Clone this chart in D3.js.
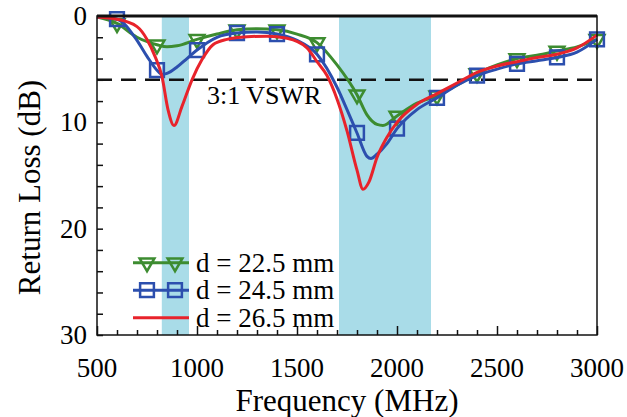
<!DOCTYPE html>
<html>
<head>
  <meta charset="UTF-8">
  <script src="https://d3js.org/d3.v7.min.js"></script>
</head>
<body style="margin:0">
  <script>
    // curve samples (MHz, dB)
    const freqGreen = [500, 600, 700, 800, 850, 900, 1000, 1100, 1200, 1300, 1400, 1500, 1600, 1700, 1800, 1850, 1900, 1930, 2000, 2100, 2200, 2300, 2400, 2500, 2600, 2700, 2800, 2900, 3000];
    const lossGreen = [0.1, 0.7, 2.0, 2.7, 2.9, 2.8, 2.2, 1.7, 1.3, 1.2, 1.3, 1.7, 2.5, 4.6, 7.4, 9.3, 10.2, 10.3, 9.4, 8.2, 7.5, 6.5, 5.4, 4.6, 4.0, 3.7, 3.3, 2.9, 2.2];

    const freqBlue = [500, 600, 700, 750, 800, 825, 850, 900, 950, 1000, 1100, 1200, 1300, 1400, 1500, 1600, 1700, 1750, 1800, 1850, 1870, 1900, 1950, 2000, 2100, 2200, 2300, 2400, 2500, 2600, 2700, 2800, 2900, 3000];
    const lossBlue = [0.1, 0.3, 2.3, 3.8, 5.1, 5.5, 5.4, 4.8, 4.0, 3.2, 2.0, 1.6, 1.5, 1.7, 2.3, 3.6, 6.7, 8.8, 11.0, 13.2, 13.4, 13.0, 12.0, 10.6, 8.8, 7.7, 6.5, 5.6, 5.0, 4.5, 4.2, 3.9, 3.4, 2.2];

    const freqRed = [500, 600, 700, 750, 790, 825, 855, 885, 925, 975, 1025, 1080, 1150, 1250, 1350, 1450, 1550, 1600, 1650, 1700, 1750, 1800, 1830, 1860, 1900, 1950, 2000, 2100, 2200, 2300, 2400, 2500, 2600, 2700, 2800, 2900, 3000];
    const lossRed = [0.1, 0.3, 1.0, 2.2, 3.8, 5.7, 8.8, 10.3, 8.5, 6.0, 4.1, 2.7, 2.2, 1.95, 1.9, 2.1, 3.0, 4.3, 5.6, 7.8, 10.8, 14.5, 16.3, 15.6, 13.3, 11.4, 10.0, 8.3, 7.3, 6.3, 5.3, 4.7, 4.3, 3.9, 3.6, 3.0, 1.8];

    const markerFreqs = [600, 800, 1000, 1200, 1400, 1600, 1800, 2000, 2200, 2400, 2600, 2800, 3000];
    const bands = [[824, 960], [1710, 2170]];
    const vswrLevel = 6;
    const xTicks = [500, 1000, 1500, 2000, 2500, 3000];
    const yTicks = [0, 10, 20, 30];
    const legendLabels = ["d = 22.5 mm", "d = 24.5 mm", "d = 26.5 mm"];

    const W = 627, H = 417;
    const m = { left: 97, top: 16, right: 30, bottom: 82 };
    const iw = W - m.left - m.right, ih = H - m.top - m.bottom;
    const serif = "'Liberation Serif'";

    const svg = d3.select("body").append("svg").attr("width", W).attr("height", H)
      .style("font-family", serif);
    const g = svg.append("g").attr("transform", `translate(${m.left},${m.top})`);

    const x = d3.scaleLinear().domain([500, 3000]).range([0, iw]);
    const y = d3.scaleLinear().domain([0, 30]).range([0, ih]);

    // shaded bands
    g.selectAll(".band").data(bands).enter().append("rect")
      .attr("x", d => x(d[0])).attr("width", d => x(d[1]) - x(d[0]))
      .attr("y", 0).attr("height", ih)
      .attr("fill", "#a9dce8");

    // ticks (inward)
    const xAxis = d3.axisBottom(x).tickValues(d3.range(500, 3001, 100))
      .tickSize(-5).tickFormat("");
    g.append("g").attr("transform", `translate(0,${ih})`).call(xAxis)
      .call(s => s.select(".domain").remove())
      .call(s => s.selectAll(".tick line").attr("stroke", "#111").attr("stroke-width", 1.5)
        .attr("y2", d => d % 500 === 0 ? -9 : -5));
    const yAxis = d3.axisLeft(y).tickValues(d3.range(0, 31, 2))
      .tickSize(-6).tickFormat("");
    g.append("g").call(yAxis)
      .call(s => s.select(".domain").remove())
      .call(s => s.selectAll(".tick line").attr("stroke", "#111").attr("stroke-width", 1.5));

    // tick labels
    g.selectAll(".xl").data(xTicks).enter().append("text")
      .attr("x", d => x(d)).attr("y", ih + 42)
      .attr("text-anchor", "middle").style("font-family", serif).attr("font-size", 27).text(d => d);
    g.selectAll(".yl").data(yTicks).enter().append("text")
      .attr("x", -10).attr("y", d => y(d) + 9)
      .attr("text-anchor", "end").style("font-family", serif).attr("font-size", 27).text(d => d);

    // 3:1 VSWR line
    g.append("line").attr("x1", 0).attr("x2", iw)
      .attr("y1", y(vswrLevel)).attr("y2", y(vswrLevel))
      .attr("stroke", "#111").attr("stroke-width", 2.5).attr("stroke-dasharray", "15,9");
    g.append("text").attr("x", x(1050)).attr("y", y(vswrLevel) + 24)
      .style("font-family", serif).attr("font-size", 26).text("3:1 VSWR");

    const line = d3.line().x(d => x(d[0])).y(d => y(d[1])).curve(d3.curveMonotoneX);
    const series = [
      { f: freqGreen, v: lossGreen, color: "#3d8c30", marker: "tri" },
      { f: freqBlue, v: lossBlue, color: "#2c4fae", marker: "sq" },
      { f: freqRed, v: lossRed, color: "#e8232b", marker: null }
    ];

    const triSym = d3.symbol().type(d3.symbolTriangle).size(95);
    const sqSym = d3.symbol().type(d3.symbolSquare).size(190);

    function drawMarker(sel, kind, color) {
      if (kind === "tri") {
        sel.append("path").attr("d", triSym())
          .attr("transform", "rotate(180)")
          .attr("fill", "none").attr("stroke", color).attr("stroke-width", 2.5);
      } else if (kind === "sq") {
        sel.append("path").attr("d", sqSym())
          .attr("fill", "none").attr("stroke", color).attr("stroke-width", 2.5);
      }
    }

    series.forEach(s => {
      const pts = s.f.map((f, i) => [f, s.v[i]]);
      g.append("path").datum(pts)
        .attr("fill", "none").attr("stroke", s.color).attr("stroke-width", 3)
        .attr("d", line);
      if (s.marker) {
        pts.filter(p => markerFreqs.includes(p[0])).forEach(p => {
          const mk = g.append("g").attr("transform", `translate(${x(p[0])},${y(p[1])})`);
          drawMarker(mk, s.marker, s.color);
        });
      }
    });

    // frame
    g.append("rect").attr("width", iw).attr("height", ih)
      .attr("fill", "none").attr("stroke", "#111").attr("stroke-width", 1.5);
    g.append("line").attr("x1", 0).attr("x2", iw).attr("y1", 0).attr("y2", 0)
      .attr("stroke", "#111").attr("stroke-width", 3);

    // legend
    const leg = g.append("g").attr("transform", `translate(${x(680)},${y(23.2)})`);
    series.forEach((s, i) => {
      const row = leg.append("g").attr("transform", `translate(0,${i * 27.5})`);
      row.append("line").attr("x1", 0).attr("x2", 56).attr("y1", 0).attr("y2", 0)
        .attr("stroke", s.color).attr("stroke-width", 3);
      if (s.marker) {
        [14, 42].forEach(cx => {
          const mk = row.append("g").attr("transform", `translate(${cx},0)`);
          drawMarker(mk, s.marker, s.color);
        });
      }
      row.append("text").attr("x", 63).attr("y", 9)
        .style("font-family", serif).attr("font-size", 27).text(legendLabels[i]);
    });

    // axis titles
    svg.append("text").attr("x", m.left + iw / 2).attr("y", H - 6)
      .attr("text-anchor", "middle").style("font-family", serif).attr("font-size", 31).text("Frequency (MHz)");
    svg.append("text").attr("transform", `translate(40,${m.top + ih / 2 + 12}) rotate(-90)`)
      .attr("text-anchor", "middle").style("font-family", serif).attr("font-size", 31).text("Return Loss (dB)");
  </script>
</body>
</html>
